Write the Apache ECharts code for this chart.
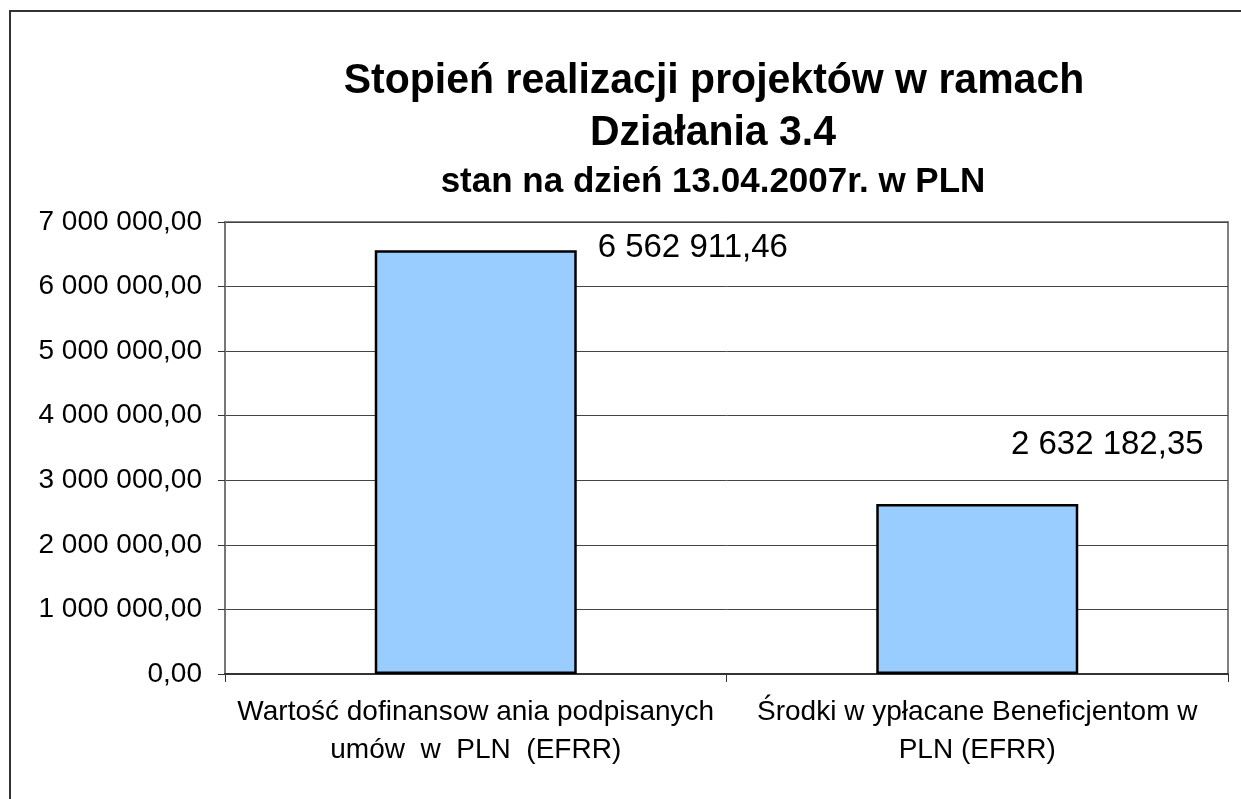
<!DOCTYPE html>
<html>
<head>
<meta charset="utf-8">
<style>html,body{margin:0;padding:0;background:#fff;}#chart{width:1241px;height:799px;}</style>
<script src="https://cdn.jsdelivr.net/npm/echarts@6/dist/echarts.min.js"></script>
</head>
<body>
<div id="chart"></div>
<script>
const titleLines = ['Stopień realizacji projektów w ramach', 'Działania 3.4'];
const subtitle = 'stan na dzień 13.04.2007r. w PLN';
const categories = ['Wartość dofinansow ania podpisanych\numów  w  PLN  (EFRR)', 'Środki w ypłacane Beneficjentom w\nPLN (EFRR)'];
const values = [6562911.46, 2632182.35];
const yMin = 0, yMax = 7000000, yStep = 1000000;

function fmt(v) {
  const s = v.toFixed(2);
  const parts = s.split('.');
  const intPart = parts[0].replace(/\B(?=(\d{3})+(?!\d))/g, ' ');
  return intPart + ',' + parts[1];
}

const FONT = '"Liberation Sans", Arial, sans-serif';
const labelOffsets = [[217, -2], [130, -59]];

const chart = echarts.init(document.getElementById('chart'));
chart.setOption({
  animation: false,
  backgroundColor: '#fff',
  textStyle: { fontFamily: FONT },
  graphic: [
    { type: 'rect', shape: { x: 10, y: 11, width: 1400, height: 1000 }, style: { fill: 'none', stroke: '#333', lineWidth: 2 }, silent: true, z: 0 },
    { type: 'text', x: 714, y: 81, scaleY: 1.05, style: { text: titleLines[0], font: 'bold 41px ' + FONT, fill: '#000', textAlign: 'center', textVerticalAlign: 'middle' } },
    { type: 'text', x: 713, y: 133, scaleY: 1.05, style: { text: titleLines[1], font: 'bold 41px ' + FONT, fill: '#000', textAlign: 'center', textVerticalAlign: 'middle' } },
    { type: 'text', x: 713, y: 182, style: { text: subtitle, font: 'bold 35px ' + FONT, fill: '#000', textAlign: 'center', textVerticalAlign: 'middle' } }
  ],
  grid: { left: 225, right: 13, top: 222, bottom: 125, show: true, borderColor: '#808080', borderWidth: 2, backgroundColor: '#fff' },
  xAxis: {
    type: 'category',
    data: categories,
    axisLine: { show: true, lineStyle: { color: '#333', width: 2 } },
    axisTick: { show: true, length: 8, lineStyle: { color: '#333', width: 1 } },
    axisLabel: { interval: 0, color: '#000', fontSize: 28, lineHeight: 38, margin: 19, fontFamily: FONT }
  },
  yAxis: {
    type: 'value',
    min: yMin, max: yMax, interval: yStep,
    axisLine: { show: true, lineStyle: { color: '#777', width: 2 } },
    axisTick: { show: true, length: 7, lineStyle: { color: '#333', width: 1 } },
    splitLine: { show: true, lineStyle: { color: '#444', width: 1 } },
    axisLabel: { color: '#000', fontSize: 28, margin: 23, fontFamily: FONT, formatter: fmt }
  },
  series: [{
    type: 'bar',
    barWidth: 202,
    data: values.map((v, i) => ({
      value: v,
      label: { offset: labelOffsets[i] }
    })),
    itemStyle: { color: '#99CCFF', borderColor: '#000', borderWidth: 2.5 },
    label: {
      show: true, position: 'top', distance: 0,
      align: 'center', verticalAlign: 'middle',
      color: '#000', fontSize: 33, fontFamily: FONT,
      formatter: p => fmt(p.value)
    }
  }]
});
</script>
</body>
</html>
